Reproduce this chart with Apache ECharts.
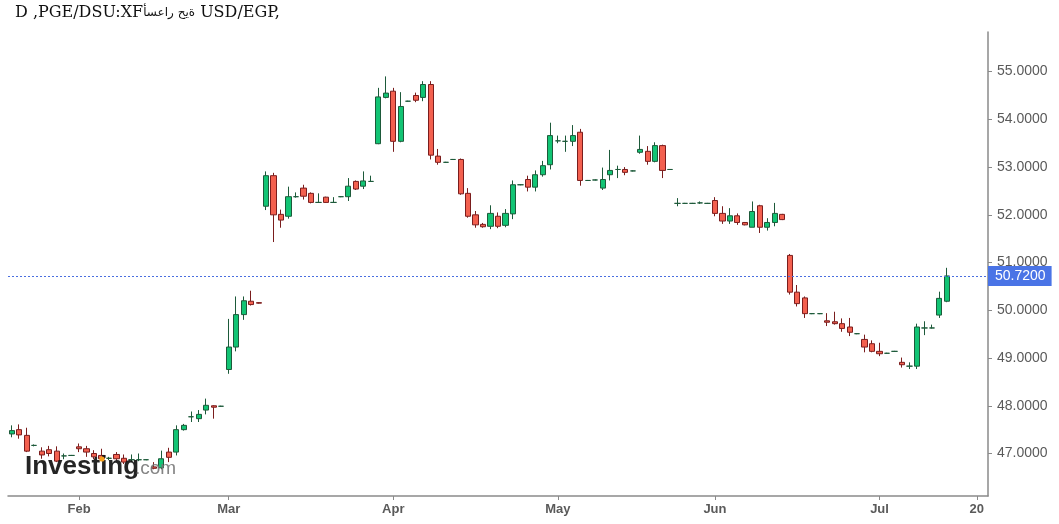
<!DOCTYPE html>
<html><head><meta charset="utf-8">
<script src="https://cdn.jsdelivr.net/npm/echarts@6/dist/echarts.min.js"></script>
<style>html,body{margin:0;padding:0;background:#fff}#c{width:1059px;height:524px}</style>
</head><body><div id="c"></div>
<script>
const categories = [
'2025-01-20','2025-01-21','2025-01-22','2025-01-23','2025-01-26','2025-01-27','2025-01-28','2025-01-29','2025-01-30',
'2025-02-02','2025-02-03','2025-02-04','2025-02-05','2025-02-06','2025-02-09','2025-02-10','2025-02-11','2025-02-12','2025-02-13','2025-02-16','2025-02-17','2025-02-18','2025-02-19','2025-02-20','2025-02-23','2025-02-24','2025-02-25','2025-02-26','2025-02-27',
'2025-03-02','2025-03-03','2025-03-04','2025-03-05','2025-03-06','2025-03-09','2025-03-10','2025-03-11','2025-03-12','2025-03-13','2025-03-16','2025-03-17','2025-03-18','2025-03-19','2025-03-20','2025-03-23','2025-03-24','2025-03-25','2025-03-26','2025-03-27','2025-03-30','2025-03-31',
'2025-04-01','2025-04-02','2025-04-03','2025-04-06','2025-04-07','2025-04-08','2025-04-09','2025-04-10','2025-04-13','2025-04-14','2025-04-15','2025-04-16','2025-04-17','2025-04-20','2025-04-21','2025-04-22','2025-04-23','2025-04-24','2025-04-27','2025-04-28','2025-04-29','2025-04-30',
'2025-05-01','2025-05-04','2025-05-05','2025-05-06','2025-05-07','2025-05-08','2025-05-11','2025-05-12','2025-05-13','2025-05-14','2025-05-15','2025-05-18','2025-05-19','2025-05-20','2025-05-21','2025-05-22','2025-05-25','2025-05-26','2025-05-27','2025-05-28','2025-05-29',
'2025-06-01','2025-06-02','2025-06-03','2025-06-04','2025-06-05','2025-06-08','2025-06-09','2025-06-10','2025-06-11','2025-06-12','2025-06-15','2025-06-16','2025-06-17','2025-06-18','2025-06-19','2025-06-22','2025-06-23','2025-06-24','2025-06-25','2025-06-26','2025-06-29','2025-06-30',
'2025-07-01','2025-07-02','2025-07-03','2025-07-06','2025-07-07','2025-07-08','2025-07-09','2025-07-10','2025-07-13','2025-07-14','2025-07-15','2025-07-16','2025-07-17','2025-07-20','2025-07-21'
];
const opens = [
47.41,47.50,47.38,47.17,47.05,47.08,47.05,46.95,46.96,47.14,47.10,47.00,46.96,46.90,46.98,46.90,46.87,46.87,46.87,46.72,
46.70,47.03,47.03,47.50,47.77,47.73,47.91,48.00,47.99,48.76,49.23,49.91,50.19,50.16,52.18,52.82,52.01,51.97,52.38,52.56,
52.45,52.26,52.37,52.26,52.38,52.38,52.70,52.60,52.70,53.49,54.46,54.59,53.54,54.38,54.50,54.46,54.73,53.23,53.10,53.16,
53.16,52.45,52.00,51.80,51.76,51.97,51.78,52.02,52.63,52.74,52.58,52.84,53.05,53.55,53.54,53.54,53.73,52.72,52.73,52.56,
52.84,52.95,52.95,52.92,53.31,53.33,53.12,53.45,52.95,52.24,52.24,52.24,52.25,52.24,52.30,52.03,51.87,51.98,51.84,51.74,
52.19,51.74,51.84,52.01,51.15,50.38,50.26,49.93,49.93,49.78,49.76,49.72,49.65,49.51,49.39,49.30,49.14,49.10,49.14,48.91,
48.83,48.83,49.63,49.63,49.90,50.19
];
const closes = [
47.48,47.39,47.05,47.17,46.97,47.00,46.84,46.95,46.96,47.10,47.03,46.93,46.89,46.90,46.89,46.82,46.87,46.87,46.87,46.69,
46.89,46.92,47.50,47.59,47.77,47.82,48.01,47.97,47.99,49.23,49.91,50.20,50.12,50.15,52.82,52.00,51.89,52.38,52.38,52.39,
52.26,52.26,52.26,52.26,52.38,52.60,52.54,52.71,52.70,54.47,54.55,53.54,54.27,54.38,54.40,54.73,53.25,53.10,53.10,53.16,
52.44,51.97,51.79,51.75,52.03,51.76,52.03,52.63,52.63,52.58,52.84,53.03,53.66,53.55,53.54,53.66,52.72,52.72,52.73,52.74,
52.93,52.95,52.89,52.92,53.37,53.12,53.45,52.93,52.95,52.24,52.24,52.24,52.25,52.24,52.03,51.87,51.98,51.84,51.79,52.07,
51.74,51.84,52.03,51.90,50.38,50.14,49.93,49.93,49.93,49.75,49.72,49.62,49.54,49.51,49.23,49.14,49.09,49.10,49.14,48.86,
48.83,49.65,49.63,49.63,50.25,50.72
];
const lows = [
47.34,47.31,47.03,47.15,46.89,46.94,46.82,46.88,46.95,47.03,46.93,46.88,46.85,46.86,46.85,46.78,46.82,46.84,46.86,46.67,
46.67,46.82,46.96,47.48,47.66,47.66,47.82,47.73,47.98,48.67,49.14,49.80,50.10,50.14,52.10,51.43,51.73,51.92,52.36,52.32,
52.24,52.25,52.25,52.25,52.37,52.29,52.52,52.54,52.69,53.48,54.44,53.32,53.52,54.37,54.36,54.38,53.16,53.05,53.09,53.15,
52.42,51.94,51.73,51.73,51.70,51.72,51.74,51.91,52.62,52.49,52.49,52.80,52.95,53.50,53.32,53.44,52.61,52.71,52.72,52.52,
52.72,52.77,52.83,52.91,53.28,53.05,53.10,52.77,52.94,52.18,52.23,52.23,52.23,52.23,51.97,51.81,51.81,51.79,51.78,51.74,
51.62,51.67,51.76,51.89,50.33,50.08,49.84,49.92,49.92,49.67,49.70,49.55,49.46,49.50,49.12,49.12,49.04,49.09,49.13,48.80,
48.77,48.77,49.48,49.62,49.84,50.17
];
const highs = [
47.59,47.61,47.54,47.19,47.13,47.16,47.15,47.00,46.97,47.21,47.16,47.07,47.10,46.93,47.03,46.98,46.98,47.00,46.88,46.82,
47.06,47.12,47.59,47.62,47.88,47.91,48.15,48.01,48.00,49.82,50.29,50.29,50.41,50.17,52.91,52.88,52.11,52.59,52.47,52.63,
52.47,52.45,52.38,52.37,52.39,52.77,52.72,52.91,52.82,54.66,54.90,54.66,54.57,54.39,54.56,54.80,54.80,53.38,53.11,53.17,
53.18,52.56,52.08,51.83,52.20,52.05,52.12,52.72,52.64,52.82,52.93,53.13,53.93,53.66,53.66,53.88,53.80,52.73,52.74,52.99,
53.36,53.03,53.00,52.93,53.66,53.44,53.52,53.47,52.96,52.35,52.25,52.25,52.28,52.25,52.37,52.18,52.14,52.03,51.85,52.28,
52.21,51.93,52.25,52.02,51.18,50.53,50.29,49.94,49.94,49.94,49.97,49.83,49.84,49.52,49.49,49.37,49.32,49.11,49.15,49.01,
48.91,49.72,49.77,49.70,50.39,50.89
];
const yTicks = [47, 48, 49, 50, 51, 52, 53, 54, 55];
const xTickLabels = {'2025-02-02':'Feb','2025-03-02':'Mar','2025-04-01':'Apr','2025-05-01':'May','2025-06-01':'Jun','2025-07-01':'Jul','2025-07-20':'20'};
const lastPrice = 50.72;
const titleLatinA = 'D ,PGE/DSU:XF';
const titleArabic = '\u202D\u0623\u0633\u0639\u0627\u0631 \u062d\u064a\u0629\u202C';
const titleLatinB = ' USD/EGP,';

const candles = opens.map((o, i) => [o, closes[i], lows[i], highs[i]]);
const chart = echarts.init(document.getElementById('c'), null, {renderer: 'canvas'});
const tickIdx = (i, v) => Object.prototype.hasOwnProperty.call(xTickLabels, v);
chart.setOption({
  animation: false,
  backgroundColor: '#ffffff',
  grid: {left: 8, right: 71, top: 32, bottom: 28},
  xAxis: {
    type: 'category', data: categories, boundaryGap: true,
    axisLine: {show: true, lineStyle: {color: '#8a8a8a', width: 1.5}},
    axisTick: {show: true, alignWithLabel: true, interval: tickIdx, length: 4, lineStyle: {color: '#8a8a8a'}},
    axisLabel: {interval: tickIdx, formatter: v => xTickLabels[v] || '', color: '#5a5a5a', fontSize: 13, fontWeight: 'bold', fontFamily: 'Liberation Sans, Arial, sans-serif', margin: 7},
    splitLine: {show: false}
  },
  yAxis: {
    type: 'value', position: 'right', min: 46.11, max: 55.83, scale: true,
    axisLine: {show: true, lineStyle: {color: '#8a8a8a', width: 1.5}},
    axisTick: {show: true, inside: false, length: 4, customValues: yTicks, lineStyle: {color: '#8a8a8a'}},
    axisLabel: {customValues: yTicks, formatter: v => v.toFixed(4), color: '#5a5a5a', fontSize: 14, fontFamily: 'Liberation Sans, Arial, sans-serif', margin: 9, padding: [4, 0, 0, 0]},
    splitLine: {show: false}
  },
  series: [{
    type: 'candlestick',
    data: candles,
    barWidth: '76%',
    itemStyle: {
      color: '#12c474', color0: '#f3604f',
      borderColor: '#1d5a3a', borderColor0: '#7a1d1d',
      borderColorDoji: '#1d5a3a', borderWidth: 1
    },
    markLine: {
      silent: true, symbol: ['none', 'none'],
      lineStyle: {color: '#4a6fe0', type: [2, 2], width: 1},
      label: {position: 'end', distance: 0, formatter: () => lastPrice.toFixed(4), color: '#ffffff', backgroundColor: '#4a74e6', padding: [3, 6, 3, 7], fontSize: 14, lineHeight: 14, fontFamily: 'Liberation Sans, Arial, sans-serif'},
      data: [{yAxis: lastPrice}]
    }
  }],
  graphic: [
    {type: 'text', left: 15, top: 5, z: 10, style: {
      text: '{a|' + titleLatinA + '}{b|' + titleArabic + '}{a|' + titleLatinB + '}',
      rich: {
        a: {font: '16px "DejaVu Serif", serif', fill: '#111', lineHeight: 18},
        b: {font: '12px "DejaVu Sans", sans-serif', fill: '#111', lineHeight: 18}
      }
    }},
    {type: 'text', left: 25, top: 454, z: 100, style: {text: 'Investing', font: 'bold 26px "Liberation Sans", Arial, sans-serif', fill: '#111', opacity: 0.92}},
    {type: 'text', left: 135, top: 459, z: 100, style: {text: '.com', font: '19px "Liberation Sans", Arial, sans-serif', fill: '#777', opacity: 0.9}},
    {type: 'circle', z: 101, shape: {cx: 102, cy: 459, r: 2.6}, style: {fill: '#f7a21b'}}
  ]
});
</script></body></html>
